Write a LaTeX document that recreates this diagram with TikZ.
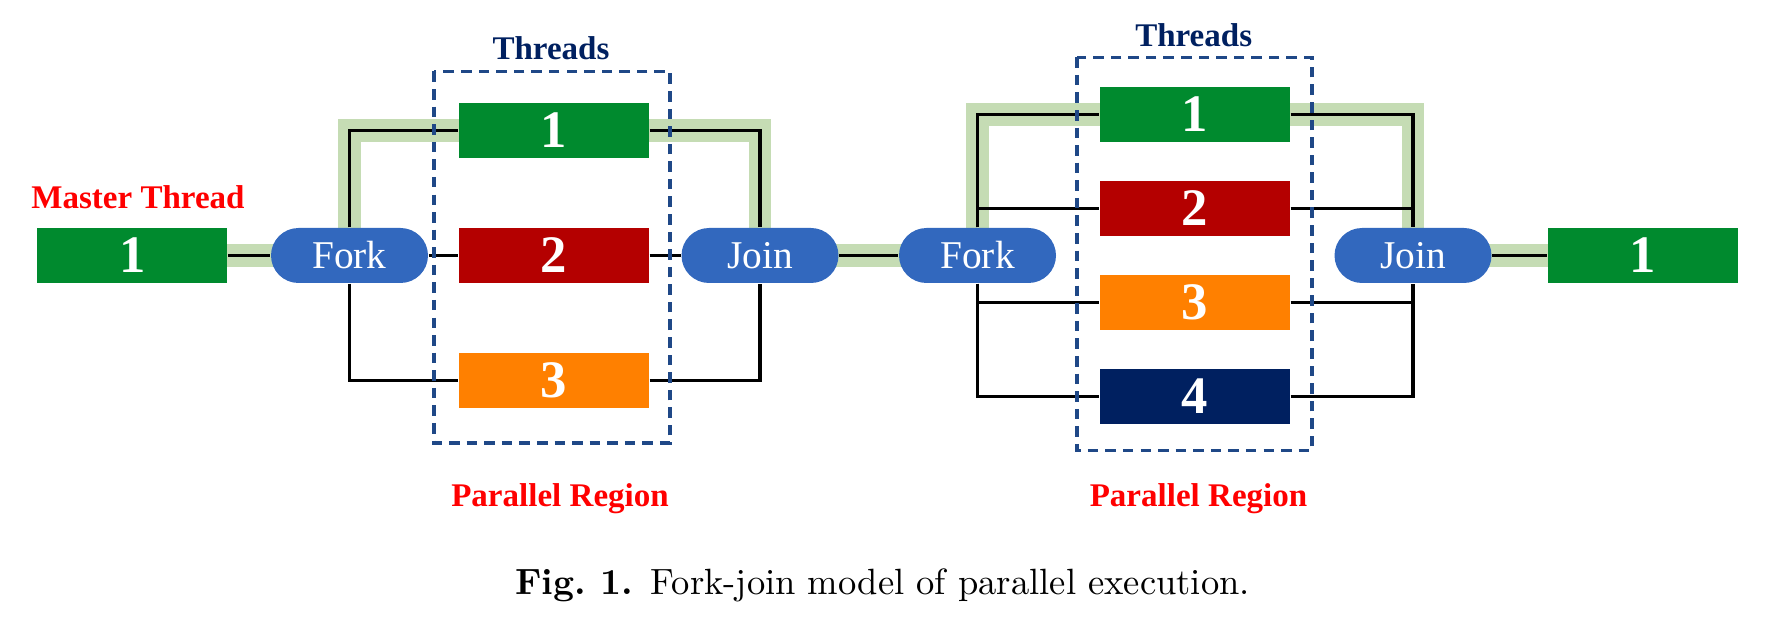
\documentclass[tikz,border=0pt]{standalone}
\usepackage{fontspec}
\newfontfamily\tnr{Liberation Serif}
\usetikzlibrary{calc}
\definecolor{thrgreen}{RGB}{0,138,46}
\definecolor{thrred}{RGB}{180,0,0}
\definecolor{throrange}{RGB}{255,128,0}
\definecolor{thrnavy}{RGB}{0,32,96}
\definecolor{fjblue}{RGB}{50,104,190}
\definecolor{hlgreen}{RGB}{197,220,180}
\definecolor{regblue}{RGB}{31,72,135}
\tikzset{
  thr/.style={minimum width=1.9cm,minimum height=0.55cm,inner sep=0pt,text=white,
    font=\tnr\bfseries\fontsize{15}{15}\selectfont},
  fj/.style={fill=fjblue,rounded corners=0.275cm,minimum width=1.57cm,minimum height=0.55cm,
    inner sep=0pt,text=white,font=\tnr\fontsize{11.2}{12}\selectfont},
  lbl/.style={anchor=base,font=\tnr\bfseries\fontsize{9.4}{11}\selectfont},
  link/.style={line width=1pt,black},
  hl/.style={line width=6.3pt,hlgreen},
  region/.style={draw=regblue,line width=1pt,dash pattern=on 3pt off 2pt}
}

\begin{document}
\begin{tikzpicture}
\useasboundingbox (0,0) rectangle (17.86,6.26);
\coordinate (M1) at (1.324,3.705);
\coordinate (F1) at (3.495,3.705);
\coordinate (J1) at (7.6,3.705);
\coordinate (F2) at (9.775,3.705);
\coordinate (J2) at (14.13,3.705);
\coordinate (M2) at (16.43,3.705);
\draw[hl] (M1) -- (F1) |- (5.54,4.955) -| (J1) -- (F2) |- (11.95,5.115) -| (J2) -- (M2);
\node[thr,fill=thrgreen] (M1) at (M1) {1};
\node[fj] (F1) at (F1) {Fork};
\node[thr,fill=thrgreen] (T11) at (5.54,4.955) {1};
\node[thr,fill=thrred] (T12) at (5.54,3.705) {2};
\node[thr,fill=throrange] (T13) at (5.54,2.455) {3};
\node[fj] (J1) at (J1) {Join};
\node[fj] (F2) at (F2) {Fork};
\node[thr,fill=thrgreen] (T21) at (11.95,5.115) {1};
\node[thr,fill=thrred] (T22) at (11.95,4.175) {2};
\node[thr,fill=throrange] (T23) at (11.95,3.235) {3};
\node[thr,fill=thrnavy] (T24) at (11.95,2.295) {4};
\node[fj] (J2) at (J2) {Join};
\node[thr,fill=thrgreen] (M2) at (M2) {1};
\draw[link] (M1) -- (F1);
\draw[link] (F1.north) |- (T11.west);
\draw[link] (F1) -- (T12);
\draw[link] (F1.south) |- (T13.west);
\draw[link] (T11.east) -| (J1.north);
\draw[link] (T12) -- (J1);
\draw[link] (T13.east) -| (J1.south);
\draw[link] (J1) -- (F2);
\draw[link] (F2.north) |- (T21.west);
\draw[link] (F2.north) |- (T22.west);
\draw[link] (F2.south) |- (T23.west);
\draw[link] (F2.south) |- (T24.west);
\draw[link] (T21.east) -| (J2.north);
\draw[link] (T22.east) -| (J2.north);
\draw[link] (T23.east) -| (J2.south);
\draw[link] (T24.east) -| (J2.south);
\draw[link] (J2) -- (M2);
\draw[region] (4.34,5.545) rectangle (6.70,1.83);
\draw[region] (10.77,5.687) rectangle (13.12,1.753);
\node[lbl,text=red] (mlab) at (1.38,4.17) {Master Thread};
\node[lbl,text=thrnavy] (th1) at (5.51,5.667) {Threads};
\node[lbl,text=thrnavy] (th2) at (11.937,5.793) {Threads};
\node[lbl,text=red] (pr1) at (5.60,1.193) {Parallel Region};
\node[lbl,text=red] (pr2) at (11.985,1.193) {Parallel Region};
\node[anchor=base,font=\fontsize{10.4}{12}\selectfont] (cap) at (8.825,0.32)
  {\textbf{Fig.\ 1.}\enspace Fork-join model of parallel execution.};
\end{tikzpicture}
\end{document}
